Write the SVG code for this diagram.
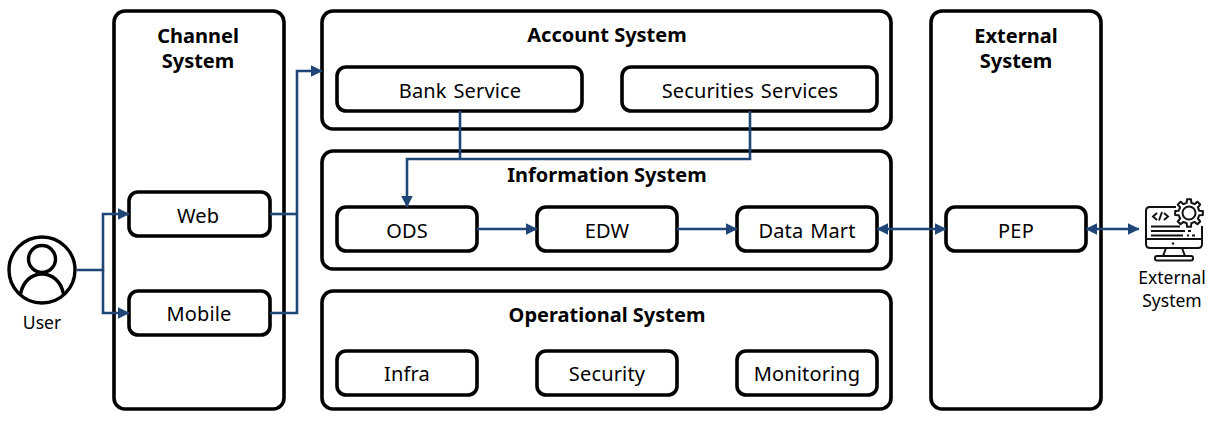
<svg xmlns="http://www.w3.org/2000/svg" width="1216" height="423" viewBox="0 0 1216 423">
<style>
text{font-family:"Noto Sans","Open Sans","Liberation Sans",sans-serif;fill:#000;text-anchor:middle}
.t{font-size:20px;font-weight:700}
.l{font-size:20px;letter-spacing:.15px;word-spacing:1.5px}
.s{font-size:17.5px}
.o{fill:#fff;stroke:#000;stroke-width:3.6}
.c{fill:none;stroke:#1f4677;stroke-width:2.6}
.i{fill:none;stroke:#111;stroke-width:2}
</style>
<defs>
<marker id="a" viewBox="0 0 10 10" refX="9.5" refY="5" markerWidth="4.6" markerHeight="4.6" orient="auto-start-reverse"><path d="M0 0L10 5L0 10z" fill="#1f4677"/></marker>
</defs>
<g id="channel"><rect class="o" x="114" y="11" width="170" height="398" rx="11"/><text class="t" x="198" y="43">Channel</text><text class="t" x="198" y="68">System</text></g>
<g id="account"><rect class="o" x="322" y="11" width="569" height="118" rx="11"/><text class="t" x="607" y="42">Account System</text></g>
<g id="information"><rect class="o" x="322" y="151" width="569" height="118" rx="11"/><text class="t" x="607" y="182">Information System</text></g>
<g id="operational"><rect class="o" x="322" y="291" width="569" height="118" rx="11"/><text class="t" x="607" y="322">Operational System</text></g>
<g id="external"><rect class="o" x="931" y="11" width="170" height="398" rx="11"/><text class="t" x="1016" y="43">External</text><text class="t" x="1016" y="68">System</text></g>
<g id="web"><rect class="o" x="129" y="192" width="141" height="44" rx="9"/><text class="l" x="198" y="223">Web</text></g>
<g id="mobile"><rect class="o" x="129" y="291" width="141" height="44" rx="9"/><text class="l" x="199" y="321">Mobile</text></g>
<g id="bank"><rect class="o" x="337" y="67" width="245" height="44" rx="9"/><text class="l" x="460" y="98">Bank Service</text></g>
<g id="securities"><rect class="o" x="622" y="67" width="255" height="44" rx="9"/><text class="l" x="750" y="98">Securities Services</text></g>
<g id="ods"><rect class="o" x="337" y="207" width="140" height="44" rx="9"/><text class="l" x="407" y="238">ODS</text></g>
<g id="edw"><rect class="o" x="537" y="207" width="140" height="44" rx="9"/><text class="l" x="607" y="238">EDW</text></g>
<g id="datamart"><rect class="o" x="737" y="207" width="140" height="44" rx="9"/><text class="l" x="807" y="238">Data Mart</text></g>
<g id="infra"><rect class="o" x="337" y="351" width="140" height="44" rx="9"/><text class="l" x="407" y="381">Infra</text></g>
<g id="security"><rect class="o" x="537" y="351" width="140" height="44" rx="9"/><text class="l" x="607" y="381">Security</text></g>
<g id="monitoring"><rect class="o" x="737" y="351" width="140" height="44" rx="9"/><text class="l" x="807" y="381">Monitoring</text></g>
<g id="pep"><rect class="o" x="946" y="207" width="140" height="44" rx="9"/><text class="l" x="1016" y="238">PEP</text></g>
<g id="user">
<circle cx="42" cy="270" r="33" fill="#fff" stroke="#000" stroke-width="3.4"/>
<circle cx="42" cy="259" r="13.5" fill="none" stroke="#000" stroke-width="3.400"/>
<path d="M20.500 294C23 281 32 274 42 274S61 281 63.500 294" fill="none" stroke="#000" stroke-width="3.4"/>
<text class="s" x="42" y="329">User</text>
</g>
<g id="external-system">
<path class="i" d="M1176 207H1150Q1146 207 1146 211V244Q1146 248 1150 248H1198Q1202 248 1202 244V226"/>
<path class="i" d="M1146 239H1202"/>
<path class="i" d="M1166 248L1163 256M1182 248L1185 256"/>
<rect class="i" x="1155" y="256" width="38" height="4.500" rx="2"/>
<circle cx="1173" cy="243.500" r="1.200" fill="#111"/>
<path d="M1157 213l-4 3.500 4 3.500M1159 220.500l3-8.500M1164 213l4 3.500-4 3.500" fill="none" stroke="#111" stroke-width="1.900"/>
<path d="M1151 226.500H1180M1151 231H1185M1188 231H1191M1151 235.500H1183M1187 235.500H1189M1192 235.500H1195" fill="none" stroke="#111" stroke-width="1.800"/>
<g transform="translate(1189 213)">
<polygon fill="#fff" stroke="#111" stroke-width="2" stroke-linejoin="round" points="10.230,-2.360 13.860,-1.950 13.860,1.950 10.230,2.360 8.900,5.560 11.180,8.430 8.430,11.180 5.560,8.900 2.360,10.230 1.950,13.860 -1.950,13.860 -2.360,10.230 -5.560,8.900 -8.430,11.180 -11.180,8.430 -8.900,5.560 -10.230,2.360 -13.860,1.950 -13.860,-1.950 -10.230,-2.360 -8.900,-5.560 -11.180,-8.430 -8.430,-11.180 -5.560,-8.900 -2.360,-10.230 -1.950,-13.860 1.950,-13.860 2.360,-10.230 5.560,-8.900 8.430,-11.180 11.180,-8.430 8.900,-5.560"/>
<circle r="6.500" fill="none" stroke="#111" stroke-width="2"/>
</g>
<text class="s" x="1172" y="284">External</text>
<text class="s" x="1172" y="307">System</text>
</g>
<g id="connectors">
<path class="c" d="M77 270H103V214H129" marker-end="url(#a)"/>
<path class="c" d="M103 270V313H129" marker-end="url(#a)"/>
<path class="c" d="M270 214H297"/>
<path class="c" d="M270 313H297V71H322" marker-end="url(#a)"/>
<path class="c" d="M460 111V159"/>
<path class="c" d="M750 111V159H407V207" marker-end="url(#a)"/>
<path class="c" d="M477 229H537" marker-end="url(#a)"/>
<path class="c" d="M677 229H737" marker-end="url(#a)"/>
<path class="c" d="M877 229H946" marker-start="url(#a)" marker-end="url(#a)"/>
<path class="c" d="M1086 229H1139" marker-start="url(#a)" marker-end="url(#a)"/>
</g>
</svg>
